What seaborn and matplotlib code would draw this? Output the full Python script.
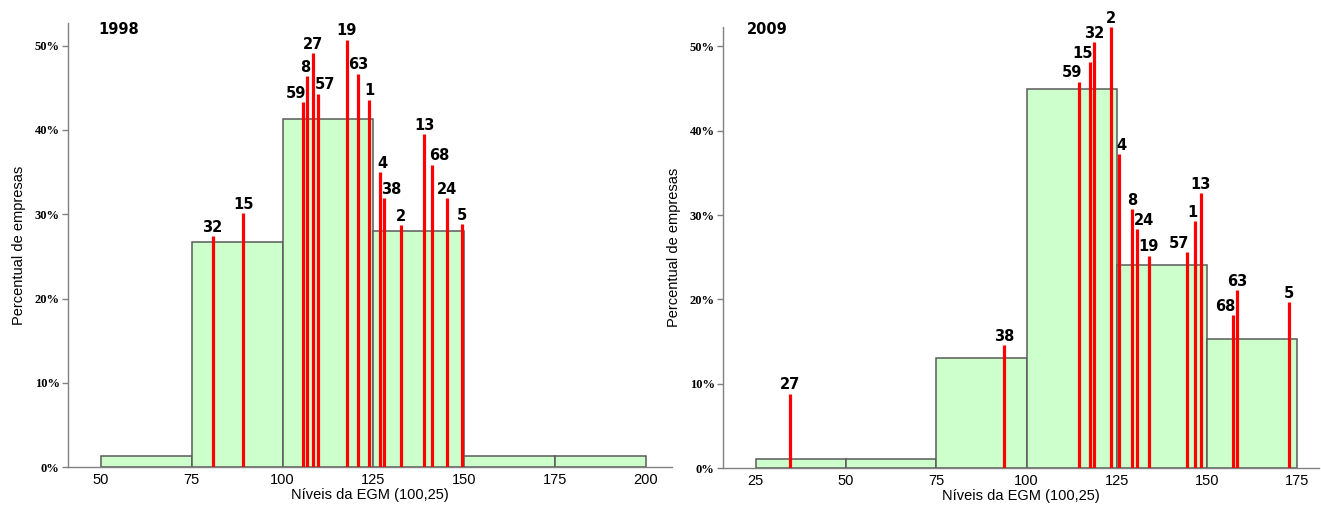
import numpy as np
import pandas as pd
import matplotlib
matplotlib.use('Agg')
import matplotlib.pyplot as plt
import seaborn as sns

sns.set_style('white')
plt.rcParams['font.family'] = ['Liberation Sans', 'DejaVu Sans']
plt.rcParams['text.color'] = 'black'
plt.rcParams['axes.labelcolor'] = 'black'
plt.rcParams['xtick.labelcolor'] = 'black'
plt.rcParams['ytick.labelcolor'] = 'black'

# ---- data ----
bins_1998 = [50, 75, 100, 125, 150, 175, 200]
pct_1998 = [1.3, 26.7, 41.3, 28.0, 1.3, 1.3]
firms_1998 = ['32', '15', '59', '8', '27', '57', '19', '63', '1', '4', '38', '2', '13', '68', '24', '5']
egm_1998 = [80.7, 89.1, 105.6, 106.8, 108.3, 109.7, 117.6, 120.8, 123.9, 126.8, 127.9, 132.5, 139.0, 141.2, 145.3, 149.4]
h_1998 = [27.4, 30.1, 43.3, 46.4, 49.1, 44.3, 50.7, 46.7, 43.6, 35.0, 31.9, 28.7, 39.5, 35.9, 31.9, 28.8]

bins_2009 = [25, 50, 75, 100, 125, 150, 175]
pct_2009 = [1.1, 1.1, 13.1, 45.0, 24.1, 15.3]
firms_2009 = ['27', '38', '59', '15', '32', '2', '4', '8', '24', '19', '57', '1', '13', '68', '63', '5']
egm_2009 = [34.6, 93.8, 114.6, 117.6, 118.7, 123.5, 125.6, 129.2, 130.5, 133.9, 144.4, 146.6, 148.2, 157.1, 158.3, 172.8]
h_2009 = [8.8, 14.6, 45.8, 48.1, 50.5, 52.3, 37.2, 30.7, 28.3, 25.2, 25.6, 29.3, 32.6, 18.1, 21.1, 19.7]

# label alignment tweaks (default centred on the line)
align_1998 = {'59': 'right', '8': 'right', '57': 'left', '4': 'left', '38': 'left', '68': 'left'}
align_2009 = {'59': 'right', '15': 'right', '4': 'left', '24': 'left', '57': 'right', '1': 'right', '68': 'right'}

fig = plt.figure(figsize=(13.21, 5.05), dpi=100)
ax1 = fig.add_axes([0.0515, 0.0752, 0.4572, 0.8793])
ax2 = fig.add_axes([0.5473, 0.0732, 0.4512, 0.8733])

panels = [
    (ax1, '1998', bins_1998, pct_1998, firms_1998, egm_1998, h_1998, align_1998, (40.9, 207.2), 52.7, 98),
    (ax2, '2009', bins_2009, pct_2009, firms_2009, egm_2009, h_2009, align_2009, (15.9, 181.0), 52.3, 747),
]

for ax, year, edges, pct, firms, egm, h, align, xlim, ytop, xtitle in panels:
    centers = [(a + b) / 2 for a, b in zip(edges[:-1], edges[1:])]
    df = pd.DataFrame({'egm': centers, 'pct': pct})
    sns.histplot(data=df, x='egm', weights='pct', bins=edges, stat='count',
                 color='#ccffcc', alpha=1, edgecolor='#5a5a5a', linewidth=1.1, ax=ax)

    ax.vlines(egm, 0, h, color='#ff0000', linewidth=2.3, zorder=3)
    for f, x, y in zip(firms, egm, h):
        ha = align.get(f, 'center')
        dx = {'center': 0, 'left': -2, 'right': 2}[ha]
        ax.annotate(f, (x, y), xytext=(dx, 1), textcoords='offset points',
                    ha=ha, va='bottom', fontsize=10.5, fontweight='bold',
                    family='DejaVu Sans', annotation_clip=False)

    fig.text(xtitle / 1321, 1 - 22 / 505, year, fontsize=10.5,
             fontweight='bold', family='DejaVu Sans', va='top', ha='left')

    ax.set_xlim(*xlim)
    ax.set_ylim(0, ytop)
    ax.set_xticks(edges)
    ax.set_xticklabels([str(e) for e in edges], fontsize=10.5)
    ax.set_yticks([0, 10, 20, 30, 40, 50])
    ax.set_yticklabels(['0%', '10%', '20%', '30%', '40%', '50%'],
                       fontsize=9, family='Liberation Serif', fontweight='bold')
    ax.tick_params(axis='x', length=0, pad=4)
    ax.tick_params(axis='y', length=4, width=1, color='#808080', pad=2, left=True)
    ax.set_xlabel('Níveis da EGM (100,25)', fontsize=10.5, labelpad=1)
    ax.set_ylabel('Percentual de empresas', fontsize=10.5, labelpad=6)
    for s in ['top', 'right']:
        ax.spines[s].set_visible(False)
    for s in ['left', 'bottom']:
        ax.spines[s].set_color('#808080')
        ax.spines[s].set_linewidth(1)

fig.savefig('out.png', dpi=100)
